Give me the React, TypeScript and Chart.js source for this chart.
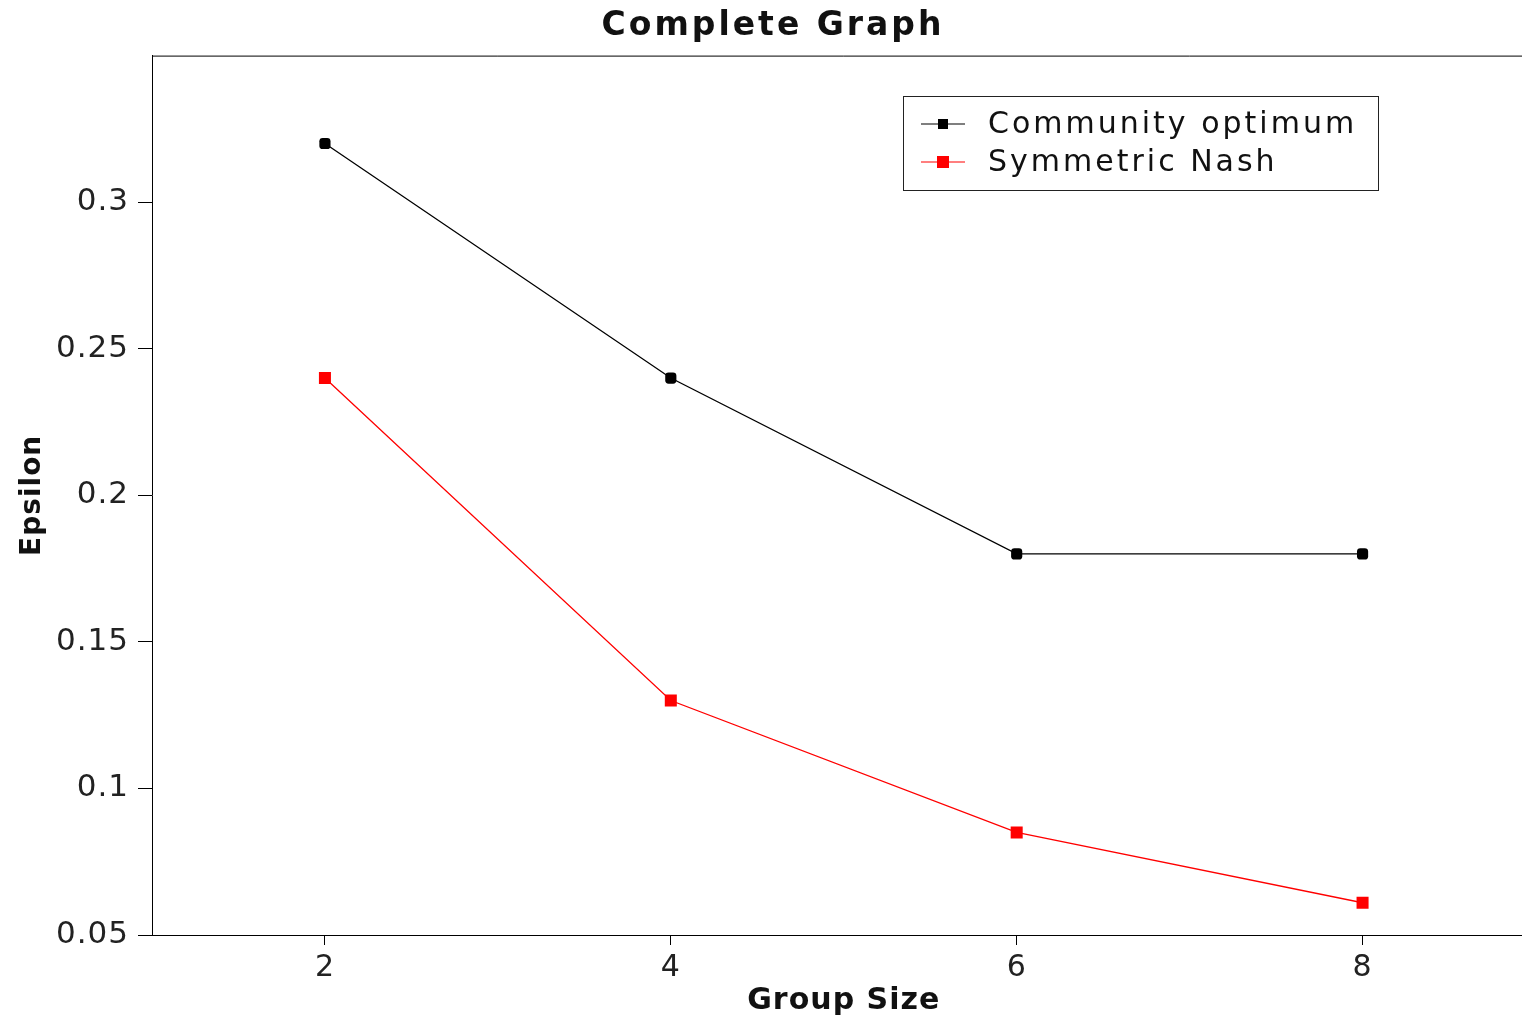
import React, { useEffect, useRef } from "react";
import { Chart, registerables } from "chart.js";

Chart.register(...registerables);

const groupSizes = [2, 4, 6, 8];
const communityOptimum = [0.32, 0.24, 0.18, 0.18];
const symmetricNash = [0.24, 0.13, 0.085, 0.061];
const xTicks = [2, 4, 6, 8];
const yTicks = [0.05, 0.1, 0.15, 0.2, 0.25, 0.3];
const seriesLabels = ["Community optimum", "Symmetric Nash"];
const chartTitle = "Complete Graph";

const FONT = "'DejaVu Sans', 'Noto Sans', sans-serif";

const spacing = {
  id: "spacing",
  beforeDraw(chart: any) {
    chart.ctx.letterSpacing = "1px";
  },
};

const frameAndLegend = {
  id: "frameAndLegend",
  afterDatasetsDraw(chart: any) {
    const { ctx, chartArea } = chart;
    ctx.save();
    // top border
    ctx.strokeStyle = "#000";
    ctx.lineWidth = 1;
    ctx.beginPath();
    ctx.moveTo(chartArea.left, chartArea.top + 0.5);
    ctx.lineTo(chartArea.right, chartArea.top + 0.5);
    ctx.stroke();

    // title
    ctx.letterSpacing = "3px";
    ctx.fillStyle = "#111";
    ctx.font = `bold 33px ${FONT}`;
    ctx.textAlign = "center";
    ctx.textBaseline = "middle";
    ctx.fillText(chartTitle, 773, 26);

    // legend
    const bx = 903.5, by = 96.5, bw = 475, bh = 94;
    ctx.letterSpacing = "0px";
    ctx.fillStyle = "#fff";
    ctx.fillRect(bx, by, bw, bh);
    ctx.strokeStyle = "#222";
    ctx.lineWidth = 1;
    ctx.strokeRect(bx, by, bw, bh);
    const rows = [124, 162];
    chart.data.datasets.forEach((ds: any, i: number) => {
      const y = rows[i];
      ctx.strokeStyle = ds.borderColor;
      ctx.lineWidth = 1.2;
      ctx.beginPath();
      ctx.moveTo(921, y);
      ctx.lineTo(965, y);
      ctx.stroke();
      ctx.fillStyle = ds.backgroundColor;
      const s = i === 0 ? 10 : 12;
      ctx.fillRect(943 - s / 2, y - s / 2, s, s);
      ctx.fillStyle = "#111";
      ctx.letterSpacing = "3px";
      ctx.font = `30px ${FONT}`;
      ctx.textBaseline = "middle";
      ctx.textAlign = "left";
      ctx.fillText(ds.label, 988, y + 1);
      ctx.letterSpacing = "0px";
    });
    ctx.restore();
  },
};

export default function App() {
  const ref = useRef<HTMLCanvasElement | null>(null);
  useEffect(() => {
    document.body.style.margin = "0";
    document.body.style.overflow = "hidden";
    const chart = new Chart(ref.current!, {
      type: "line",
      data: {
        datasets: [
          {
            label: seriesLabels[0],
            data: groupSizes.map((x, i) => ({ x, y: communityOptimum[i] })),
            borderColor: "#000",
            backgroundColor: "#000",
            borderWidth: 1.3,
            pointStyle: "rectRounded",
            pointRadius: 6.5,
            pointBorderWidth: 0,
          },
          {
            label: seriesLabels[1],
            data: groupSizes.map((x, i) => ({ x, y: symmetricNash[i] })),
            borderColor: "#ff0000",
            backgroundColor: "#ff0000",
            borderWidth: 1.3,
            pointStyle: "rect",
            pointRadius: 8.5,
            pointBorderWidth: 0,
          },
        ],
      },
      options: {
        animation: false,
        responsive: false,
        maintainAspectRatio: false,
        layout: { padding: { left: 0, right: 8, top: 0, bottom: 0 } },
        plugins: {
          legend: { display: false },
          tooltip: { enabled: false },
          title: {
            display: true,
            text: chartTitle,
            color: "rgba(0,0,0,0)",
            font: { family: FONT, size: 33, weight: "bold" },
            padding: { top: 8, bottom: 8 },
          },
        },
        scales: {
          x: {
            type: "linear",
            min: 1,
            max: 9,
            afterBuildTicks: (s: any) => {
              s.ticks = xTicks.map((v) => ({ value: v }));
            },
            afterFit: (s: any) => {
              s.height = 81;
            },
            grid: { display: true, drawOnChartArea: false, tickLength: 10, color: "#000" },
            border: { display: true, color: "#000", width: 1 },
            ticks: {
              color: "#222",
              font: { family: FONT, size: 30 },
              padding: 5,
              callback: (v: any) => String(v),
            },
            title: {
              display: true,
              text: "Group Size",
              color: "#111",
              font: { family: FONT, size: 30, weight: "bold", lineHeight: 1.0 },
              padding: { top: 0, bottom: 0 },
            },
          },
          y: {
            type: "linear",
            min: 0.05,
            max: 0.35,
            afterBuildTicks: (s: any) => {
              s.ticks = yTicks.map((v) => ({ value: v }));
            },
            afterFit: (s: any) => {
              s.width = 152;
            },
            grid: { display: true, drawOnChartArea: false, tickLength: 14, color: "#000" },
            border: { display: true, color: "#000", width: 1 },
            ticks: {
              color: "#222",
              font: { family: FONT, size: 31 },
              padding: 9,
              callback: (v: any) => String(Math.round(v * 1000) / 1000),
            },
            title: {
              display: true,
              text: "Epsilon",
              color: "#111",
              font: { family: FONT, size: 28, weight: "bold" },
              padding: { top: 16, bottom: 0 },
            },
          },
        },
      },
      plugins: [spacing, frameAndLegend],
    } as any);
    return () => chart.destroy();
  }, []);
  return (
    <div style={{ width: 1522, height: 1016, overflow: "hidden", background: "#fff" }}>
      <canvas ref={ref} width={1544} height={1016} style={{ display: "block" }} />
    </div>
  );
}
